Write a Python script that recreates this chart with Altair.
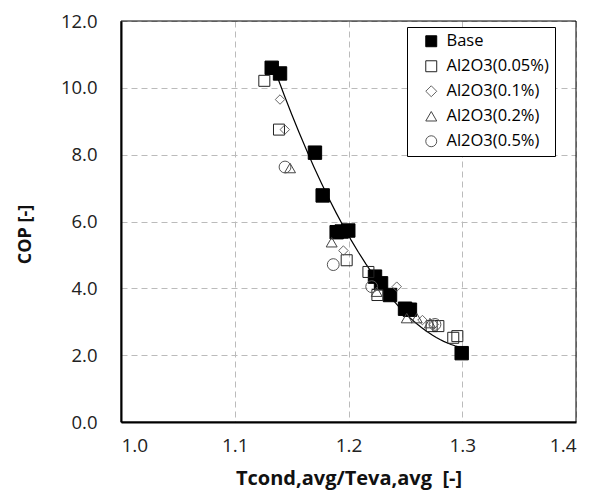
import altair as alt
import pandas as pd

series_names = ["Base", "Al2O3(0.05%)", "Al2O3(0.1%)", "Al2O3(0.2%)", "Al2O3(0.5%)"]

base_x = [1.1325, 1.1398, 1.1705, 1.1773, 1.1896, 1.1940, 1.1998, 1.2233, 1.2286, 1.2365, 1.2497, 1.2540, 1.2995]
base_y = [10.60, 10.43, 8.06, 6.78, 5.68, 5.70, 5.73, 4.35, 4.15, 3.80, 3.39, 3.36, 2.06]

al005_x = [1.1260, 1.1389, 1.1984, 1.2175, 1.2254, 1.2731, 1.2790, 1.2921, 1.2957]
al005_y = [10.21, 8.75, 4.84, 4.49, 3.80, 2.87, 2.87, 2.52, 2.57]

al01_x = [1.1398, 1.1440, 1.1955, 1.2424, 1.2650, 1.2750]
al01_y = [9.65, 8.75, 5.13, 4.05, 3.05, 2.92]

al02_x = [1.1486, 1.1852, 1.2248, 1.2512, 1.2600, 1.2716]
al02_y = [7.60, 5.38, 3.90, 3.11, 3.11, 2.96]

al05_x = [1.1442, 1.1866, 1.2204, 1.2760]
al05_y = [7.63, 4.71, 4.05, 2.92]

all_x = [base_x, al005_x, al01_x, al02_x, al05_x]
all_y = [base_y, al005_y, al01_y, al02_y, al05_y]

marker_sizes = [180, 121, 90, 120, 140]

rows = []
for name, xs, ys, sz in zip(series_names, all_x, all_y, marker_sizes):
    for xv, yv in zip(xs, ys):
        rows.append({"series": name, "ratio": xv, "cop": yv, "sz": sz})
df = pd.DataFrame(rows)

x_ticks = [1.0, 1.1, 1.2, 1.3, 1.4]
y_ticks = [0, 2, 4, 6, 8, 10, 12]

FONT = "Open Sans"
W, H = 455, 401

x_enc = alt.X(
    "ratio:Q",
    scale=alt.Scale(domain=[1.0, 1.4], nice=False, zero=False),
    axis=alt.Axis(
        values=x_ticks, format=".1f", title="Tcond,avg/Teva,avg\u00a0\u00a0[-]",
        ticks=False, labelPadding=14, labelFontSize=19, labelFont=FONT, labelColor="#222",
        titleFont=FONT, titleFontSize=20, titleFontWeight="bold", titleColor="#111",
        titleX=W / 2, titleY=56, titleBaseline="middle",
        grid=True, gridDash=[6, 4], gridColor="#bbbbbb", gridWidth=1,
        domainColor="black", domainWidth=2,
    ),
)
y_enc = alt.Y(
    "cop:Q",
    scale=alt.Scale(domain=[0, 12], nice=False),
    axis=alt.Axis(
        values=y_ticks, format=".1f", title="COP [-]",
        ticks=False, labelPadding=24, labelFontSize=18.5, labelFont=FONT, labelColor="#222",
        titleFont=FONT, titleFontSize=18, titleFontWeight="bold", titleColor="#111",
        titleX=-96, titleY=213, titleAngle=-90, titleAlign="center", titleBaseline="middle",
        grid=True, gridDash=[6, 4], gridColor="#bbbbbb", gridWidth=1,
        domainColor="black", domainWidth=2,
    ),
)

shapes = ["square", "square", "diamond", "triangle-up", "circle"]
fills = ["black", "transparent", "transparent", "transparent", "transparent"]
strokes = ["black", "#222222", "#666666", "#444444", "#555555"]

legend = alt.Legend(
    title=None, orient="none", legendX=286, legendY=6,
    fillColor="white", strokeColor="black", padding=6,
    labelFont=FONT, labelFontSize=16.5, labelColor="black",
    symbolSize=120, symbolStrokeWidth=1, symbolOffset=10, labelOffset=7,
    rowPadding=8,
)

points = alt.Chart(df).mark_point(strokeWidth=1, opacity=1).encode(
    x=x_enc,
    y=y_enc,
    shape=alt.Shape("series:N", scale=alt.Scale(domain=series_names, range=shapes), legend=legend),
    fill=alt.Fill("series:N", scale=alt.Scale(domain=series_names, range=fills), legend=legend),
    stroke=alt.Stroke("series:N", scale=alt.Scale(domain=series_names, range=strokes), legend=legend),
    size=alt.Size("sz:Q", scale=None),
)

curve = alt.Chart(df).transform_filter(
    alt.datum.series == "Base"
).transform_regression(
    "ratio", "cop", method="poly", order=2, extent=[1.137, 1.30]
).mark_line(color="black", strokeWidth=1.2).encode(
    x="ratio:Q", y="cop:Q"
)

frame = alt.Chart(df).mark_rect(fill="transparent", stroke="black", strokeWidth=1).encode(
    x=alt.value(0), x2=alt.value(W), y=alt.value(0), y2=alt.value(H)
).transform_filter(alt.datum.series == "Base").transform_aggregate(n="count()")

chart = alt.layer(curve, points, frame).properties(
    width=W, height=H,
    autosize=alt.AutoSizeParams(type="none"),
    padding={"left": 113, "top": 13, "right": 5, "bottom": 70},
).configure_view(stroke=None)

chart.save("out.html", embed_options={"renderer": "svg", "actions": False})
